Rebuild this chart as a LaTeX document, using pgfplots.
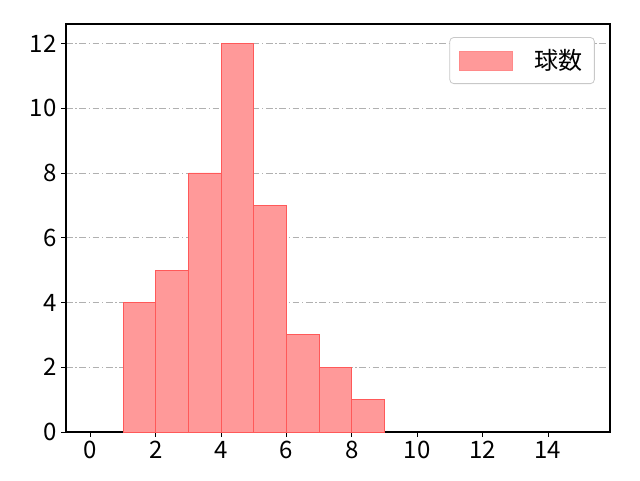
\documentclass[border=0pt]{standalone}
\usepackage{pgfplots}
\pgfplotsset{compat=1.18}
\usepackage{fontspec}
\setmainfont{Noto Sans CJK JP}
\definecolor{barfill}{RGB}{255,153,153}
\definecolor{baredge}{RGB}{255,60,60}
\definecolor{gridc}{RGB}{176,176,176}
\begin{document}
\begin{tikzpicture}
\begin{axis}[
  at={(0,0)}, anchor=south west,
  scale only axis,
  width=408pt, height=306pt,
  xmin=-0.75, xmax=15.9,
  ymin=0, ymax=12.6,
  xtick={0,2,...,14}, ytick={0,2,...,12},
  tick align=outside,
  major tick length=3.5pt,
  tick style={black, line width=0.6pt},
  xtick pos=bottom, ytick pos=left,
  axis line style={line width=0.8pt},
  ymajorgrids,
  grid style={gridc, dash pattern=on 5pt off 2pt on 1pt off 2pt, line width=0.6pt},
  tick label style={font=\fontsize{18}{20}\selectfont},
  /pgf/number format/assume math mode=true,
  legend style={at={(0.972,0.968)}, anchor=north east, draw=gridc!70, rounded corners=3pt,
    font=\fontsize{18}{20}\selectfont, inner xsep=7pt, inner ysep=7pt, line width=0.6pt},
  legend cell align=left,
  legend image code/.code={\draw[sharp corners, fill=barfill, draw=baredge!60] (0cm,-0.25cm) rectangle (1.4cm,0.25cm);},
]
\addplot[ybar interval, fill=barfill, draw=baredge!85, line width=0.6pt] coordinates {
 (1,4) (2,5) (3,8) (4,12) (5,7) (6,3) (7,2) (8,1) (9,1)
};
\addlegendentry{\hspace{14pt}球数}
\end{axis}
\path[use as bounding box] (-49.5pt,-36pt) rectangle (430.5pt,324pt);
\end{tikzpicture}
\end{document}
